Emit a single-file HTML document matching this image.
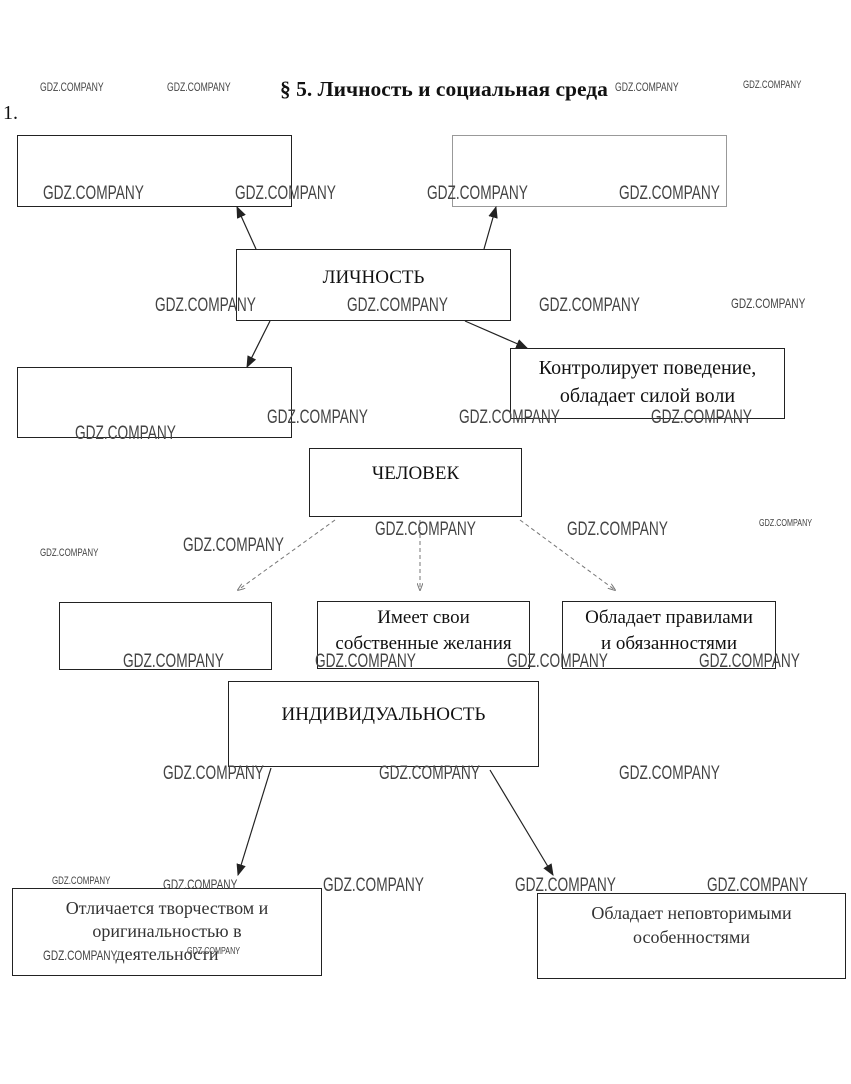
<!DOCTYPE html>
<html><head><meta charset="utf-8"><style>
body{margin:0;width:851px;height:1084px;background:#fff;position:relative;overflow:hidden;font-family:"Liberation Serif",serif;color:#111}
.b{position:absolute;border:1px solid #222;box-sizing:border-box}
.t{position:absolute;font-size:19px;text-align:center;line-height:26px}
.w{position:absolute;font-family:"Liberation Sans",sans-serif;color:#444;font-size:19px;transform:scaleX(0.72);transform-origin:left top;white-space:nowrap}
.ws{position:absolute;font-family:"Liberation Sans",sans-serif;color:#444;font-size:12px;transform:scaleX(0.72);transform-origin:left top;white-space:nowrap}
</style></head><body>
<div style="position:absolute;left:280px;top:77px;font-size:21.5px;font-weight:bold">§ 5. Личность и социальная среда</div>
<div style="position:absolute;left:3px;top:102px;font-size:20px">1.</div>

<div class="b" style="left:17px;top:135px;width:275px;height:72px"></div>
<div class="b" style="left:452px;top:135px;width:275px;height:72px;border-color:#999"></div>
<div class="b" style="left:236px;top:249px;width:275px;height:72px"></div>
<div class="t" style="left:236px;top:265px;width:275px">ЛИЧНОСТЬ</div>
<div class="b" style="left:17px;top:367px;width:275px;height:71px"></div>
<div class="b" style="left:510px;top:348px;width:275px;height:71px"></div>
<div class="t" style="left:510px;top:354px;width:275px;font-size:20px;line-height:28px">Контролирует поведение,<br>обладает силой воли</div>
<div class="b" style="left:309px;top:448px;width:213px;height:69px"></div>
<div class="t" style="left:309px;top:461px;width:213px">ЧЕЛОВЕК</div>
<div class="b" style="left:59px;top:602px;width:213px;height:68px"></div>
<div class="b" style="left:317px;top:601px;width:213px;height:68px"></div>
<div class="t" style="left:317px;top:605px;width:213px">Имеет свои<br>собственные желания</div>
<div class="b" style="left:562px;top:601px;width:214px;height:68px"></div>
<div class="t" style="left:562px;top:605px;width:214px">Обладает правилами<br>и обязанностями</div>
<div class="b" style="left:228px;top:681px;width:311px;height:86px"></div>
<div class="t" style="left:228px;top:702px;width:311px">ИНДИВИДУАЛЬНОСТЬ</div>
<div class="b" style="left:12px;top:888px;width:310px;height:88px"></div>
<div class="t" style="left:12px;top:897px;width:310px;font-size:18px;line-height:23px;color:#333">Отличается творчеством и<br>оригинальностью в<br>деятельности</div>
<div class="b" style="left:537px;top:893px;width:309px;height:86px"></div>
<div class="t" style="left:537px;top:901px;width:309px;font-size:18px;line-height:24px;color:#333">Обладает неповторимыми<br>особенностями</div>

<svg style="position:absolute;left:0;top:0" width="851" height="1084">
<defs><marker id="a" markerWidth="10" markerHeight="8" refX="9" refY="4" orient="auto"><path d="M0,0L10,4L0,8z" fill="#222"/></marker>
<marker id="c" markerWidth="8" markerHeight="6" refX="7" refY="3" orient="auto"><path d="M0,0L8,3L0,6" fill="none" stroke="#777"/></marker></defs>
<g stroke="#222" stroke-width="1.2" fill="none" marker-end="url(#a)">
<line x1="256" y1="249" x2="237" y2="207"/>
<line x1="484" y1="249" x2="496" y2="207"/>
<line x1="270" y1="321" x2="247" y2="367"/>
<line x1="465" y1="321" x2="527" y2="348"/>
<line x1="271" y1="768" x2="238" y2="875"/>
<line x1="490" y1="770" x2="553" y2="875"/>
</g>
<g stroke="#777" stroke-width="1" stroke-dasharray="4,3" fill="none" marker-end="url(#c)">
<line x1="335" y1="520" x2="238" y2="590"/>
<line x1="420" y1="520" x2="420" y2="590"/>
<line x1="520" y1="520" x2="615" y2="590"/>
</g>
</svg>

<div class="ws" style="left:40px;top:80px">GDZ.COMPANY</div>
<div class="ws" style="left:167px;top:80px">GDZ.COMPANY</div>
<div class="ws" style="left:615px;top:80px">GDZ.COMPANY</div>
<div class="ws" style="left:743px;top:79px;font-size:11px">GDZ.COMPANY</div>
<div class="w" style="left:43px;top:183px">GDZ.COMPANY</div>
<div class="w" style="left:235px;top:183px">GDZ.COMPANY</div>
<div class="w" style="left:427px;top:183px">GDZ.COMPANY</div>
<div class="w" style="left:619px;top:183px">GDZ.COMPANY</div>
<div class="w" style="left:155px;top:295px">GDZ.COMPANY</div>
<div class="w" style="left:347px;top:295px">GDZ.COMPANY</div>
<div class="w" style="left:539px;top:295px">GDZ.COMPANY</div>
<div class="ws" style="left:731px;top:295px;font-size:14px">GDZ.COMPANY</div>
<div class="w" style="left:75px;top:423px">GDZ.COMPANY</div>
<div class="w" style="left:267px;top:407px">GDZ.COMPANY</div>
<div class="w" style="left:459px;top:407px">GDZ.COMPANY</div>
<div class="w" style="left:651px;top:407px">GDZ.COMPANY</div>
<div class="w" style="left:183px;top:535px">GDZ.COMPANY</div>
<div class="w" style="left:375px;top:519px">GDZ.COMPANY</div>
<div class="w" style="left:567px;top:519px">GDZ.COMPANY</div>
<div class="ws" style="left:759px;top:518px;font-size:10px">GDZ.COMPANY</div>
<div class="ws" style="left:40px;top:547px;font-size:11px">GDZ.COMPANY</div>
<div class="w" style="left:123px;top:651px">GDZ.COMPANY</div>
<div class="w" style="left:315px;top:651px">GDZ.COMPANY</div>
<div class="w" style="left:507px;top:651px">GDZ.COMPANY</div>
<div class="w" style="left:699px;top:651px">GDZ.COMPANY</div>
<div class="w" style="left:163px;top:763px">GDZ.COMPANY</div>
<div class="w" style="left:379px;top:763px">GDZ.COMPANY</div>
<div class="w" style="left:619px;top:763px">GDZ.COMPANY</div>
<div class="ws" style="left:52px;top:875px;font-size:11px">GDZ.COMPANY</div>
<div class="ws" style="left:163px;top:876px;font-size:14px">GDZ.COMPANY</div>
<div class="w" style="left:323px;top:875px">GDZ.COMPANY</div>
<div class="w" style="left:515px;top:875px">GDZ.COMPANY</div>
<div class="w" style="left:707px;top:875px">GDZ.COMPANY</div>
<div class="ws" style="left:43px;top:947px;font-size:14px">GDZ.COMPANY</div>
<div class="ws" style="left:187px;top:946px;font-size:10px">GDZ.COMPANY</div>
</body></html>
